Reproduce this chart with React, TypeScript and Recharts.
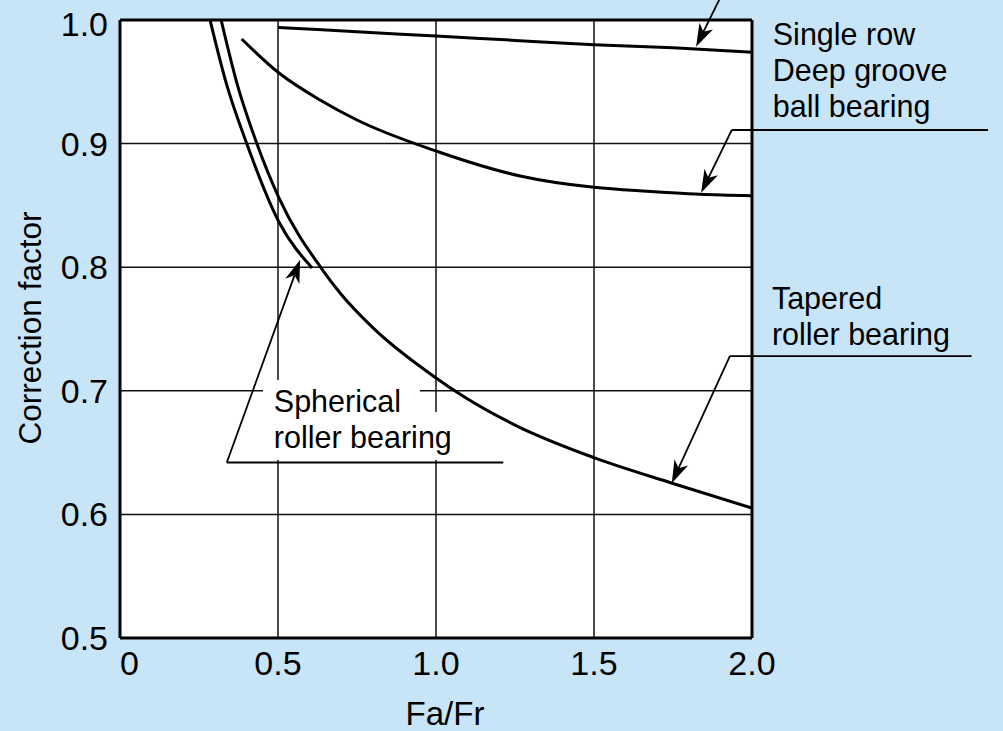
import React from 'react'
import {
  LineChart,
  Line,
  XAxis,
  YAxis,
  CartesianGrid,
  ReferenceLine,
  ReferenceArea,
} from 'recharts'

const FONT = '"Liberation Sans", Arial, Helvetica, sans-serif'

// axis ticks
const xTicks = [0, 0.5, 1.0, 1.5, 2.0]
const yTicks = [0.5, 0.6, 0.7, 0.8, 0.9, 1.0]

// upper curve (label cut off at the top of the figure)
const topFaFr = [0.5, 0.75, 1.0, 1.25, 1.5, 1.75, 2.0]
const topFactor = [0.994, 0.9905, 0.987, 0.9835, 0.98, 0.9775, 0.974]

// single row deep groove ball bearing
const deepFaFr = [0.385, 0.503, 0.633, 0.75, 1.0, 1.266, 1.5, 1.668, 1.835, 2.0]
const deepFactor = [0.9846, 0.9571, 0.9353, 0.9191, 0.894, 0.8738, 0.8646, 0.8614, 0.859, 0.8578]

// tapered roller bearing
const taperedFaFr = [0.32, 0.369, 0.433, 0.503, 0.639, 0.699, 0.8, 1.0, 1.085, 1.25, 1.5, 1.75, 2.0]
const taperedFactor = [1.0, 0.9498, 0.9, 0.856, 0.7985, 0.7783, 0.7511, 0.7104, 0.6958, 0.6723, 0.6459, 0.625, 0.6052]

// spherical roller bearing
const sphericalFaFr = [0.285, 0.335, 0.401, 0.503, 0.608]
const sphericalFactor = [1.0, 0.95, 0.9, 0.8366, 0.7994]

const zip = (xs: number[], ys: number[]) => xs.map((x, i) => ({ x, y: ys[i] }))

const series = [
  { name: 'top', data: zip(topFaFr, topFactor) },
  { name: 'deep', data: zip(deepFaFr, deepFactor) },
  { name: 'tapered', data: zip(taperedFaFr, taperedFactor) },
  { name: 'spherical', data: zip(sphericalFaFr, sphericalFactor) },
]

// callouts: text block sits on a horizontal rule, leader runs from the elbow to the arrow tip
const callouts = [
  {
    lines: ['Single row', 'Deep groove', 'ball bearing'],
    elbow: { x: 1.936, y: 0.911 },
    end: { x: 2.747, y: 0.911 },
    tip: { x: 1.839, y: 0.8603 },
    textDx: 41,
    lastDy: -13,
  },
  {
    lines: ['Tapered', 'roller bearing'],
    elbow: { x: 1.93, y: 0.728 },
    end: { x: 2.695, y: 0.728 },
    tip: { x: 1.746, y: 0.6252 },
    textDx: 42,
    lastDy: -11,
  },
  {
    lines: ['Spherical', 'roller bearing'],
    elbow: { x: 0.338, y: 0.642 },
    end: { x: 1.213, y: 0.642 },
    tip: { x: 0.57, y: 0.806 },
    textDx: 47,
    lastDy: -14,
  },
]

// arrow coming in from the cropped label above the chart
const topArrow = { from: { x: 1.899, y: 1.0178 }, tip: { x: 1.823, y: 0.9784 } }

// white patches behind the spherical label (grid lines are broken there)
const masks = [
  { x1: 0.4525, x2: 0.949, y1: 0.6828, y2: 0.7087 },
  { x1: 0.4525, x2: 1.092, y1: 0.644, y2: 0.6828 },
]

const arrowShape = (p: any) => {
  const { x1, y1, x2, y2 } = p
  const len = Math.hypot(x2 - x1, y2 - y1) || 1
  const ux = (x2 - x1) / len
  const uy = (y2 - y1) / len
  const nx = -uy
  const ny = ux
  const L = 23
  const W = 15
  const bx = x2 - ux * L
  const by = y2 - uy * L
  const mx = x2 - ux * L * 0.72
  const my = y2 - uy * L * 0.72
  const pts = [
    [x2, y2],
    [bx + (nx * W) / 2, by + (ny * W) / 2],
    [mx, my],
    [bx - (nx * W) / 2, by - (ny * W) / 2],
  ]
    .map((q) => q.join(','))
    .join(' ')
  return (
    <g>
      <line x1={x1} y1={y1} x2={mx} y2={my} stroke="#000" strokeWidth={1.8} />
      <polygon points={pts} fill="#000" />
    </g>
  )
}

const ruleShape = (c: (typeof callouts)[number]) => (p: any) => {
  const left = Math.min(p.x1, p.x2)
  const n = c.lines.length
  return (
    <g>
      <line x1={p.x1} y1={p.y1} x2={p.x2} y2={p.y2} stroke="#000" strokeWidth={1.8} />
      {c.lines.map((t, i) => (
        <text
          key={t}
          x={left + c.textDx}
          y={p.y1 + c.lastDy - (n - 1 - i) * 36}
          fontSize={30.5}
          fill="#000"
          fontFamily={FONT}
        >
          {t}
        </text>
      ))}
    </g>
  )
}

const XTick = (props: any) => {
  const { x, y, payload } = props
  const v = payload.value
  return (
    <text
      x={x}
      y={y}
      dy="0.71em"
      textAnchor={v === 0 ? 'start' : 'middle'}
      fontSize={34}
      fill="#000"
      fontFamily={FONT}
    >
      {v === 0 ? '0' : v.toFixed(1)}
    </text>
  )
}

const YTick = (props: any) => {
  const { x, y, payload } = props
  const v = payload.value
  return (
    <text
      x={x}
      y={y + (v === 1 ? 4 : 0)}
      dy="0.355em"
      textAnchor="end"
      fontSize={34}
      fill="#000"
      fontFamily={FONT}
    >
      {v.toFixed(1)}
    </text>
  )
}

const xTitle = (props: any) => {
  const vb = props.viewBox
  return (
    <text x={vb.x + vb.width / 2 + 9} y={vb.y + 87} textAnchor="middle" fontSize={33} fill="#000" fontFamily={FONT}>
      Fa/Fr
    </text>
  )
}

const yTitle = (props: any) => {
  const vb = props.viewBox
  const cx = vb.x + 30
  const cy = vb.y + vb.height / 2 - 1
  return (
    <text
      x={cx}
      y={cy}
      transform={`rotate(-90, ${cx}, ${cy})`}
      textAnchor="middle"
      dominantBaseline="central"
      fontSize={31.5}
      fill="#000"
      fontFamily={FONT}
    >
      Correction factor
    </text>
  )
}

export default function App() {
  return (
    <div
      style={{
        position: 'absolute',
        left: 0,
        top: 0,
        width: 1003,
        height: 731,
        background: '#c8e5f8',
        fontFamily: FONT,
      }}
    >
      <LineChart width={1003} height={731} margin={{ top: 20, right: 251, bottom: 0, left: 0 }}>
        <CartesianGrid stroke="#111" strokeWidth={1.5} fill="#fff" fillOpacity={1} />
        {masks.map((m, i) => (
          <ReferenceArea key={i} x1={m.x1} x2={m.x2} y1={m.y1} y2={m.y2} fill="#fff" fillOpacity={1} stroke="none" />
        ))}
        <XAxis
          dataKey="x"
          type="number"
          domain={[0, 2]}
          ticks={xTicks}
          allowDataOverflow
          height={93}
          axisLine={{ stroke: '#000', strokeWidth: 3 }}
          tickLine={false}
          tickSize={0}
          tickMargin={13}
          tick={<XTick />}
          label={xTitle}
        />
        <YAxis
          type="number"
          domain={[0.5, 1.0]}
          ticks={yTicks}
          allowDataOverflow
          width={120}
          axisLine={{ stroke: '#000', strokeWidth: 3 }}
          tickLine={false}
          tickSize={0}
          tickMargin={12}
          tick={<YTick />}
          label={yTitle}
        />
        {series.map((s) => (
          <Line
            key={s.name}
            data={s.data}
            dataKey="y"
            type="monotone"
            stroke="#000"
            strokeWidth={3}
            dot={false}
            activeDot={false}
            isAnimationActive={false}
          />
        ))}
        <ReferenceLine y={1.0} stroke="#000" strokeWidth={3} />
        <ReferenceLine x={2.0} stroke="#000" strokeWidth={3} />
        <ReferenceLine
          segment={[topArrow.from, topArrow.tip]}
          ifOverflow="visible"
          shape={arrowShape}
        />
        {callouts.map((c) => (
          <ReferenceLine
            key={c.lines[0] + 'lead'}
            segment={[c.elbow, c.tip]}
            ifOverflow="visible"
            shape={arrowShape}
          />
        ))}
        {callouts.map((c) => (
          <ReferenceLine
            key={c.lines[0] + 'rule'}
            segment={[c.elbow, c.end]}
            ifOverflow="visible"
            shape={ruleShape(c)}
          />
        ))}
      </LineChart>
    </div>
  )
}
